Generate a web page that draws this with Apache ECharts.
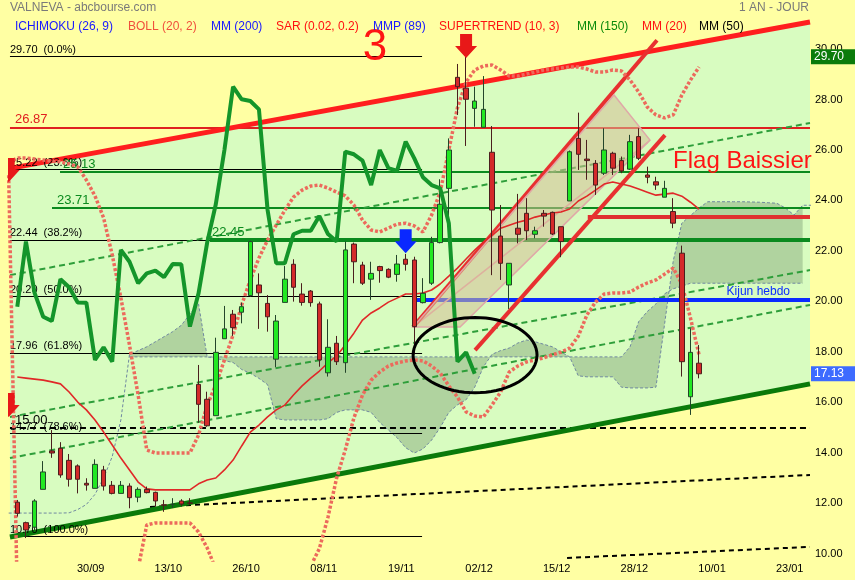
<!DOCTYPE html>
<html><head><meta charset="utf-8">
<script src="https://cdn.jsdelivr.net/npm/echarts@6/dist/echarts.min.js"></script>
<style>html,body{margin:0;padding:0;background:#FFFFA3}#c{width:855px;height:580px}</style>
</head><body><div id="c"></div><script>
// ---------- axis ticks ----------
const dateLabels = ['30/09','13/10','26/10','08/11','19/11','02/12','15/12','28/12','10/01','23/01'];
const dateLabelPos = [8.5,17.5,26.5,35.5,44.5,53.5,62.5,71.5,80.5,89.5];
const priceTicks = [10,12,14,16,18,20,22,24,26,28,30];

// ---------- daily candles (bar index 0..79) ----------
const opens  = [12.04,11.23,11.05,12.55,14.07,14.18,13.70,13.48,12.79,12.59,13.32,12.71,12.39,12.68,12.24,12.55,12.43,11.94,11.95,12.09,12.01,
  16.71,16.12,15.47,18.52,19.49,19.57,20.23,20.65,19.92,17.71,19.96,21.47,20.29,20.41,19.90,17.17,18.34,17.57,22.27,21.44,20.88,21.38,21.27,21.07,21.67,21.64,19.95,20.72,22.33,24.48,
  28.88,28.45,27.65,26.90,25.91,22.59,20.65,22.90,23.49,22.66,23.49,23.53,22.96,23.98,26.46,25.64,25.47,25.08,25.87,25.58,25.24,26.53,25.01,24.74,24.13,23.56,21.91,16.22,17.55];
const closes = [11.60,10.94,12.09,13.24,13.99,13.12,12.95,12.95,12.72,13.54,12.68,12.39,12.71,12.22,12.55,12.42,12.09,11.92,11.96,11.97,12.00,
  15.92,15.07,17.98,18.91,18.96,19.79,22.37,20.34,19.39,19.22,20.88,20.56,19.96,19.95,17.68,18.18,17.61,22.04,21.57,20.72,21.11,21.22,20.96,21.48,21.47,19.00,20.32,22.33,23.85,26.00,
  28.51,28.01,27.94,27.61,23.62,21.51,21.51,22.66,22.80,22.80,23.38,22.67,22.37,25.93,25.83,25.58,24.61,26.00,25.28,25.17,26.33,25.67,24.92,24.61,24.48,23.10,17.61,17.98,17.13];
const lows   = [11.47,10.62,10.94,12.55,13.80,13.01,12.66,12.39,12.50,12.59,12.50,12.35,12.39,11.80,12.04,12.39,11.86,11.66,11.81,11.89,11.93,
  15.19,15.03,15.47,18.52,18.63,19.13,20.19,18.91,18.80,17.39,19.96,19.99,19.83,19.79,17.41,17.02,17.48,17.17,20.72,20.65,20.06,20.74,20.92,20.78,21.22,17.90,19.92,20.65,22.30,23.36,
  27.39,26.16,26.92,26.90,21.04,20.85,19.70,22.30,22.43,22.50,22.96,22.63,21.75,23.98,25.21,24.82,24.22,25.01,25.01,25.08,25.21,25.60,24.68,24.42,24.13,22.90,17.02,15.50,16.95];
const highs  = [12.13,11.27,12.16,13.67,14.90,14.42,13.95,13.54,12.99,13.74,13.48,12.88,12.88,12.79,12.63,12.66,12.46,12.13,12.20,12.16,12.20,
  17.48,16.42,18.56,19.82,19.66,19.95,22.40,21.11,20.25,19.46,21.40,21.67,20.72,20.45,19.99,19.29,18.63,22.37,22.33,21.57,21.57,21.41,21.31,21.84,21.88,21.77,20.92,22.56,24.84,26.46,
  29.41,29.70,28.51,28.93,26.95,23.82,21.51,24.26,24.09,22.96,23.62,23.56,22.96,25.98,27.48,26.40,25.60,26.86,25.93,25.74,26.60,26.86,25.34,24.94,24.78,24.09,22.21,18.93,18.27];

// ---------- indicators ----------
const CHIKOU_LAG = 26;
const bollStart = -1;
const bollUpper = [25.5,25.68,25.68,25.64,25.60,25.56,25.53,25.45,25.33,24.81,24.18,23.31,21.84,20.14,18.27,16.29,14.11,13.99,13.99,13.99,13.99,13.99,
  14.70,15.89,16.69,17.68,18.67,19.86,20.85,21.72,22.43,23.02,23.61,24.13,24.41,24.57,24.61,24.49,24.33,24.18,23.82,23.22,22.83,22.75,22.91,23.06,23.10,22.99,22.75,23.42,24.33,26.00,
  27.67,28.69,29.17,29.33,29.37,29.17,28.93,28.93,29.01,29.09,29.17,29.21,29.25,29.29,29.29,29.21,29.09,29.09,29.17,29.13,28.77,28.30,27.70,27.39,27.27,27.39,28.18,28.77,29.29];
const bollLower = [25.0,8.3,8.3,8.4,8.5,8.5,8.4,8.2,8.0,7.9,7.9,8.0,8.2,8.5,8.9,9.4,11.14,11.22,11.22,11.22,11.22,11.22,
  10.86,10.23,9.39,8.96,8.75,8.76,8.79,8.60,8.41,8.30,8.25,8.53,9.03,9.51,10.20,11.45,13.00,14.11,15.38,16.29,16.88,17.20,17.44,17.56,17.64,17.68,17.64,17.44,17.16,16.65,
  16.21,15.62,15.46,15.42,15.89,16.41,17.20,17.44,17.60,17.68,17.76,17.88,17.99,18.15,18.62,19.46,19.97,20.29,20.33,20.33,20.37,20.57,20.73,20.85,21.08,21.32,20.69,19.34,17.88];
const mm20 = [17.00,16.96,16.92,16.88,16.81,16.73,16.41,16.01,15.70,15.30,14.82,14.31,13.79,13.32,12.84,12.57,12.53,12.53,12.53,12.53,12.53,
  12.77,12.92,13.00,13.32,13.71,14.27,14.82,15.10,15.42,15.70,15.89,16.29,16.65,16.96,17.24,17.56,17.84,18.27,18.74,19.26,19.54,19.74,19.97,20.13,20.29,20.29,20.33,20.45,20.69,21.00,
  21.32,21.68,22.03,22.35,22.62,22.90,23.02,23.14,23.22,23.34,23.42,23.50,23.54,23.66,23.98,24.17,24.41,24.65,24.73,24.65,24.57,24.45,24.33,24.21,24.25,24.29,24.17,23.93,23.66];
const spanAStart = -1;
const spanA = [11.61,11.61,11.61,11.61,11.61,11.61,11.61,11.62,11.75,11.95,12.35,13.00,13.85,15.30,17.90,18.05,18.20,18.40,18.60,18.80,19.05,19.50,19.90,
  17.80,17.75,17.65,17.58,17.30,17.15,16.95,16.70,15.35,15.30,15.30,15.30,15.30,15.30,15.35,15.60,15.70,15.70,15.70,15.60,15.20,14.90,14.60,14.20,13.99,14.15,14.50,15.00,
  15.60,15.90,16.10,16.60,17.40,17.90,18.05,18.15,18.35,18.47,18.40,18.30,18.20,18.00,17.80,17.05,17.01,17.01,17.01,17.01,16.60,16.57,16.57,16.57,16.60,19.10,21.60,23.10,
  23.40,23.70,23.95,23.95,23.95,23.95,23.95,23.94,23.93,23.91,23.89,23.70,23.42,23.81,23.81];
const spanBStart = 13;
const spanB = [17.8,17.8,17.8,17.8,17.8,17.8,17.8,17.8,17.8,17.8,17.8,17.8,17.8,17.8,17.8,17.8,17.8,17.8,17.8,17.8,17.8,17.8,17.8,17.8,17.8,17.8,17.8,17.8,17.8,17.8,
  17.8,17.8,17.8,17.8,17.8,17.8,17.8,17.8,17.8,17.8,17.8,17.8,17.8,17.8,17.8,17.8,17.8,17.8,17.8,17.8,17.8,17.8,17.8,17.8,17.8,17.8,17.8,17.8,
  18.2,19.2,19.6,19.9,20.3,20.5,20.6,20.72,20.72,20.72,20.72,20.72,20.72,20.72,20.72,20.72,20.72,20.72,20.72,20.72,20.72];

// ---------- drawn annotations (bar index, price) ----------
const fibLevels = [29.70,25.22,22.44,20.20,17.96,14.77,10.70];
const fibPct = ['0.0%','23.6%','38.2%','50.0%','61.8%','78.6%','100.0%'];
const fibFrom = -0.85, fibTo = 46.9;
const channelTop = [[-0.85,25.27],[91.85,31.07]];
const channelBottom = [[-0.85,10.66],[91.85,16.73]];
const greenDashed = [[[-0.85,21.04],[91.85,27.07]],[[-0.85,15.42],[91.85,21.24]],[[-0.85,13.79],[91.85,19.86]]];
const blackDashed = [[[15.38,11.85],[91.85,13.12]],[[63.7,9.83],[91.85,10.27]]];
const flagUpper = [[45.85,18.98],[74.12,30.35]];
const flagLower = [[53.04,18.07],[75.05,26.59]];
const flagX = [45.85,69.14,73.31,51.3];
const flagY = [18.98,28.18,26.39,18.98];
const flagMid = [[45.85,18.98],[73.08,26.31]];
const ellipseCenter = [53.04,17.87];
const ellipseRadius = [7.18,1.49];
const arrowBars = [52,45,-1,-1];
const arrowTips = [29.65,21.91,24.73,15.42];
const arrowColors = ['#E81818','#0A28FF','#E81818','#E81818'];
const lastPriceTags = [29.70, 17.13];
const tagColors = ['#0B7B0B', '#3D6BFF'];

const FONT = '"Liberation Sans", Arial, sans-serif';
const chart = echarts.init(document.getElementById('c'));
const R = 31.39, L = 9.75;

function seg(p1, p2, ls, label) {
  return [{coord: p1, lineStyle: ls, label: label || {show: false}}, {coord: p2}];
}
const thinLines = [];
fibLevels.forEach((v, k) => thinLines.push(seg([fibFrom, v], [fibTo, v], {color: '#000', width: 1, type: 'solid'},
  {show: true, position: 'insideStartTop', distance: [0, 1], formatter: v.toFixed(2) + '  (' + fibPct[k] + ')', color: '#000', fontSize: 11, fontFamily: FONT})));
thinLines.push(seg([-0.85, 26.87], [91.85, 26.87], {color: '#E02020', width: 2, type: 'solid'},
  {show: true, position: 'insideStartTop', distance: [5, 2], formatter: '26.87', color: '#E02020', fontSize: 13, fontFamily: FONT}));
thinLines.push(seg([4.95, 25.13], [91.85, 25.13], {color: '#0A8A1E', width: 2, type: 'solid'},
  {show: true, position: 'insideStartTop', distance: [3, 1], formatter: '25.13', color: '#0A8A1E', fontSize: 13, fontFamily: FONT}));
thinLines.push(seg([4.02, 23.71], [91.85, 23.71], {color: '#0A8A1E', width: 2, type: 'solid'},
  {show: true, position: 'insideStartTop', distance: [5, 1], formatter: '23.71', color: '#0A8A1E', fontSize: 13, fontFamily: FONT}));
thinLines.push(seg([-0.85, 15.0], [91.85, 15.0], {color: '#000', width: 2, type: [6, 4]},
  {show: true, position: 'insideStartTop', distance: [5, 1], formatter: '15.00', color: '#000', fontSize: 13, fontFamily: FONT}));
greenDashed.forEach(d => thinLines.push(seg(d[0], d[1], {color: '#2E9E3A', width: 2, type: [6, 4]})));
blackDashed.forEach(d => thinLines.push(seg(d[0], d[1], {color: '#000', width: 2, type: [5, 4]})));

const thickLines = [];
thickLines.push(seg([22.33, 22.45], [91.85, 22.45], {color: '#0A8A1E', width: 4, type: 'solid'},
  {show: true, position: 'insideStartTop', distance: [2, 1], formatter: '22.45', color: '#0A8A1E', fontSize: 13, fontFamily: FONT}));
thickLines.push(seg([45.85, 20.06], [91.85, 20.06], {color: '#0A2AFF', width: 4, type: 'solid'},
  {show: true, position: 'insideEndTop', distance: [20, 2], formatter: 'Kijun hebdo', color: '#0A2AFF', fontSize: 12, fontFamily: FONT}));
thickLines.push(seg([66.1, 23.36], [91.85, 23.36], {color: '#E03030', width: 4, type: 'solid'}));
thickLines.push(seg(channelTop[0], channelTop[1], {color: '#FF1E1E', width: 5, type: 'solid'}));
thickLines.push(seg(channelBottom[0], channelBottom[1], {color: '#0A7A0A', width: 5, type: 'solid'}));
thickLines.push(seg(flagMid[0], flagMid[1], {color: '#E8A0A8', width: 1.5, type: 'solid'}));
thickLines.push(seg(flagUpper[0], flagUpper[1], {color: '#E83030', width: 4, type: 'solid'}));
thickLines.push(seg(flagLower[0], flagLower[1], {color: '#E83030', width: 4, type: 'solid'}));

const pairs = (arr, start) => arr.map((v, k) => [start + k, v]);
const chikou = closes.slice(CHIKOU_LAG).map((c, k) => [k, c]);

const legendItems = [
  ['ICHIMOKU (26, 9)', '#1818FF', 15], ['BOLL (20, 2)', '#F0503C', 128], ['MM (200)', '#1818FF', 211],
  ['SAR (0.02, 0.2)', '#FF1010', 276], ['MMP (89)', '#1818FF', 373], ['SUPERTREND (10, 3)', '#FF1010', 439],
  ['MM (150)', '#0A8A0A', 577], ['MM (20)', '#FF1010', 642], ['MM (50)', '#000', 699]];

const option = {
  backgroundColor: '#FFFFA3',
  animation: false,
  grid: {left: 8, top: 14, width: 802, height: 546, containLabel: false},
  xAxis: {type: 'value', min: -1.078, max: 91.85, axisLine: {show: false}, axisTick: {show: false}, splitLine: {show: false},
    axisLabel: {customValues: dateLabelPos, margin: 3, color: '#000', fontSize: 11, fontFamily: FONT,
      formatter: v => { const k = dateLabelPos.indexOf(v); return k >= 0 ? dateLabels[k] : ''; }}},
  yAxis: {type: 'value', position: 'right', min: L, max: R, axisLine: {show: false}, axisTick: {show: false}, splitLine: {show: false},
    axisLabel: {customValues: priceTicks, margin: 5, color: '#000', fontSize: 11, fontFamily: FONT, padding: [0, 0, 6, 0],
      formatter: v => v.toFixed(2)}},
  graphic: [
    {type: 'text', x: 10, y: 8, style: {text: 'VALNEVA - abcbourse.com', fill: '#7a7a7a', font: '12px ' + FONT, textVerticalAlign: 'middle', verticalAlign: 'middle'}},
    {type: 'text', x: 809, y: 8, style: {text: '1 AN - JOUR', fill: '#7a7a7a', font: '12px ' + FONT, textAlign: 'right', align: 'right', textVerticalAlign: 'middle', verticalAlign: 'middle'}}
  ].concat(legendItems.map(it => ({type: 'text', x: it[2], y: 27, z: 100,
    style: {text: it[0], fill: it[1], font: '12px ' + FONT, textVerticalAlign: 'middle', verticalAlign: 'middle'}}))),
  series: [
    {type: 'custom', name: 'channel', z: 1, silent: true, data: [[0, 20]],
      renderItem: (p, api) => ({type: 'polygon', shape: {points: [channelTop[0], channelTop[1], channelBottom[1], channelBottom[0]].map(q => api.coord(q))},
        style: {fill: '#D8FCC0'}})},
    {type: 'custom', name: 'cloud', z: 2, silent: true, clip: true, data: [[0, 20]],
      renderItem: (p, api) => {
        const pts = [];
        for (let k = 0; k < spanB.length; k++) { const i = spanBStart + k; pts.push(api.coord([i, spanA[i - spanAStart]])); }
        for (let k = spanB.length - 1; k >= 0; k--) { pts.push(api.coord([spanBStart + k, spanB[k]])); }
        return {type: 'polygon', shape: {points: pts}, style: {fill: 'rgba(110,145,105,0.38)'}};
      }},
    {type: 'line', name: 'spanA', z: 3, silent: true, showSymbol: false, data: pairs(spanA, spanAStart), lineStyle: {color: '#7088A0', width: 1, type: [3, 2]}},
    {type: 'line', name: 'spanB', z: 3, silent: true, showSymbol: false, data: pairs(spanB, spanBStart), lineStyle: {color: '#7088A0', width: 1, type: [3, 2]}},
    {type: 'line', name: 'levels', z: 4, data: [], markLine: {silent: true, symbol: ['none', 'none'], animation: false, data: thinLines}},
    {type: 'custom', name: 'flag', z: 5, silent: true, data: [[0, 20]],
      renderItem: (p, api) => ({type: 'polygon', shape: {points: flagX.map((x, k) => api.coord([x, flagY[k]]))},
        style: {fill: 'rgba(214,190,150,0.55)', stroke: '#E0A8A8', lineWidth: 1.5}})},
    {type: 'line', name: 'bollUp', z: 6, silent: true, showSymbol: false, data: pairs(bollUpper, bollStart), lineStyle: {color: '#EC6A5C', width: 3.5, type: [3, 2]}},
    {type: 'line', name: 'bollLow', z: 6, silent: true, showSymbol: false, data: pairs(bollLower, bollStart), lineStyle: {color: '#EC6A5C', width: 3.5, type: [3, 2]}},
    {type: 'line', name: 'mm20', z: 7, silent: true, showSymbol: false, data: pairs(mm20, 0), lineStyle: {color: '#E02828', width: 1.6}},
    {type: 'candlestick', name: 'VALNEVA', z: 8, barWidth: 5, encode: {x: 0, y: [1, 2, 3, 4]},
      data: closes.map((c, i) => [i, opens[i], c, lows[i], highs[i]]),
      itemStyle: {color: '#22E822', color0: '#D42A2A', borderColor: '#23452a', borderColor0: '#4a1e1e', borderWidth: 1}},
    {type: 'line', name: 'chikou', z: 9, silent: true, showSymbol: false, data: chikou, lineStyle: {color: '#14952A', width: 4}},
    {type: 'line', name: 'lines', z: 10, data: [], markLine: {silent: true, symbol: ['none', 'none'], animation: false, data: thickLines}},
    {type: 'custom', name: 'ellipse', z: 11, silent: true, data: [[0, 20]],
      renderItem: (p, api) => {
        const c = api.coord(ellipseCenter); const s = api.size(ellipseRadius); const pts = [];
        for (let k = 0; k < 72; k++) { const a = k / 72 * Math.PI * 2; pts.push([c[0] + s[0] * Math.cos(a), c[1] + s[1] * Math.sin(a)]); }
        return {type: 'polygon', shape: {points: pts}, style: {fill: 'none', stroke: '#000', lineWidth: 3}};
      }},
    {type: 'custom', name: 'arrows', z: 12, silent: true, clip: true, data: arrowBars.map((b, k) => [b, arrowTips[k]]),
      renderItem: (p, api) => {
        const t = api.coord([api.value(0), api.value(1)]); const cx = t[0], ty = t[1];
        const sw = 12, sh = 12, hw = 22, hh = 12;
        return {type: 'polygon', shape: {points: [[cx - sw / 2, ty - hh - sh], [cx + sw / 2, ty - hh - sh], [cx + sw / 2, ty - hh], [cx + hw / 2, ty - hh], [cx, ty], [cx - hw / 2, ty - hh], [cx - sw / 2, ty - hh]]},
          style: {fill: arrowColors[p.dataIndex]}};
      }},
    {type: 'custom', name: 'notes', z: 13, silent: true, data: [[41.45, 30.04], [75.98, 25.53]],
      renderItem: (p, api) => {
        const t = api.coord([api.value(0), api.value(1)]);
        const big = p.dataIndex === 0;
        return {type: 'text', x: t[0], y: t[1], style: {text: big ? '3' : 'Flag Baissier', fill: '#FF1414',
          font: (big ? '44px ' : '24px ') + FONT, textAlign: big ? 'center' : 'left', align: big ? 'center' : 'left',
          textVerticalAlign: 'middle', verticalAlign: 'middle'}};
      }},
    {type: 'line', name: 'tags', z: 14, data: [], markLine: {silent: true, symbol: ['none', 'none'], animation: false,
      lineStyle: {color: 'rgba(0,0,0,0)', width: 0},
      data: lastPriceTags.map((v, k) => ({yAxis: v,
        label: {show: true, position: 'end', distance: 1, formatter: v.toFixed(2), color: '#fff', backgroundColor: tagColors[k],
          padding: [2, 11, 1, 3], fontSize: 12, fontFamily: FONT}}))}}
  ]
};
chart.setOption(option);
</script></body></html>
